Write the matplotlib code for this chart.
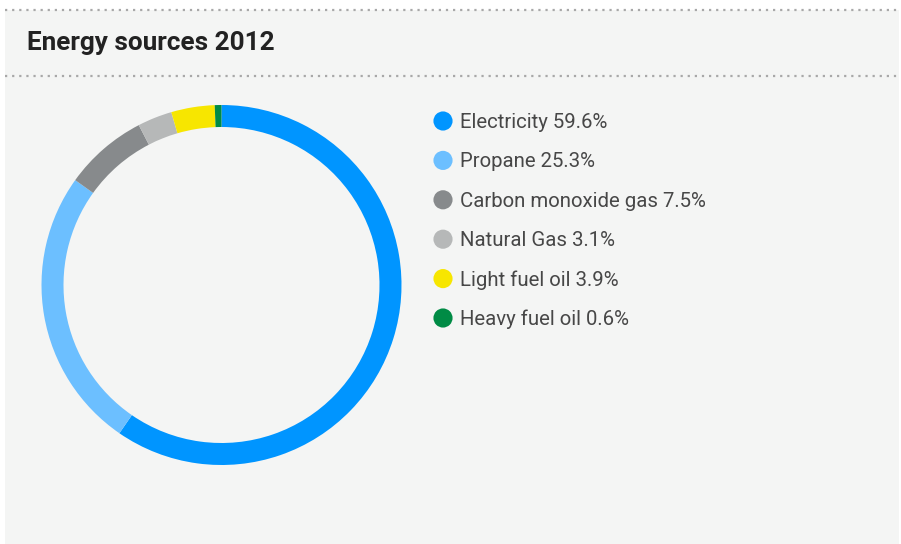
import matplotlib.pyplot as plt
from matplotlib.patches import Rectangle
from matplotlib.lines import Line2D

# Energy mix, share of total (%)
sources = ["Electricity", "Propane", "Carbon monoxide gas",
           "Natural Gas", "Light fuel oil", "Heavy fuel oil"]
shares = [59.6, 25.3, 7.5, 3.1, 3.9, 0.6]
colors = ["#0095ff", "#6cbfff", "#878a8c", "#b6b8b8", "#f7e600", "#008b45"]

W, H = 901, 544
plt.rcParams['font.family'] = ['Roboto', 'DejaVu Sans']

fig = plt.figure(figsize=(W / 100, H / 100), dpi=100, facecolor="white")


def fx(px):
    return px / W


def fy(py):
    return 1 - py / H


# panel background
fig.patches.append(Rectangle((fx(5), 0), fx(894), fy(10), transform=fig.transFigure,
                             facecolor="#f4f5f4", edgecolor="none", zorder=-10))

# dotted rules above and below the title
for y in (10, 76):
    fig.lines.append(Line2D([fx(5), fx(899)], [fy(y), fy(y)], transform=fig.transFigure,
                            color="#a8a8a8", linewidth=1.6, linestyle=(0, (1.0, 2.2)),
                            zorder=-5))

fig.text(fx(27), fy(43), "Energy sources 2012", fontsize=18.8, fontweight="bold",
         color="#222222", va="center", ha="left")

# donut
cx, cy, r = 221.5, 285, 180
ax = fig.add_axes([fx(cx - r), fy(cy + r), fx(2 * r), (2 * r) / H])
ax.pie(shares, colors=colors, startangle=90, counterclock=False, radius=1,
       wedgeprops=dict(width=22 / r, edgecolor="none", linewidth=0))
ax.set_xlim(-1, 1)
ax.set_ylim(-1, 1)
ax.set_aspect("equal")
ax.axis("off")

# legend
lax = fig.add_axes([0, 0, 1, 1], facecolor="none")
lax.set_xlim(0, W)
lax.set_ylim(H, 0)
lax.axis("off")
y0, step = 121, 39.4
for i, (name, val, col) in enumerate(zip(sources, shares, colors)):
    y = y0 + i * step
    lax.scatter([443], [y], s=190, color=col, edgecolors="none")
    lax.text(460, y + 1.5, f"{name} {val}%", fontsize=14.7, color="#474747",
             va="center", ha="left")

fig.savefig("out.png", dpi=100, facecolor=fig.get_facecolor())
